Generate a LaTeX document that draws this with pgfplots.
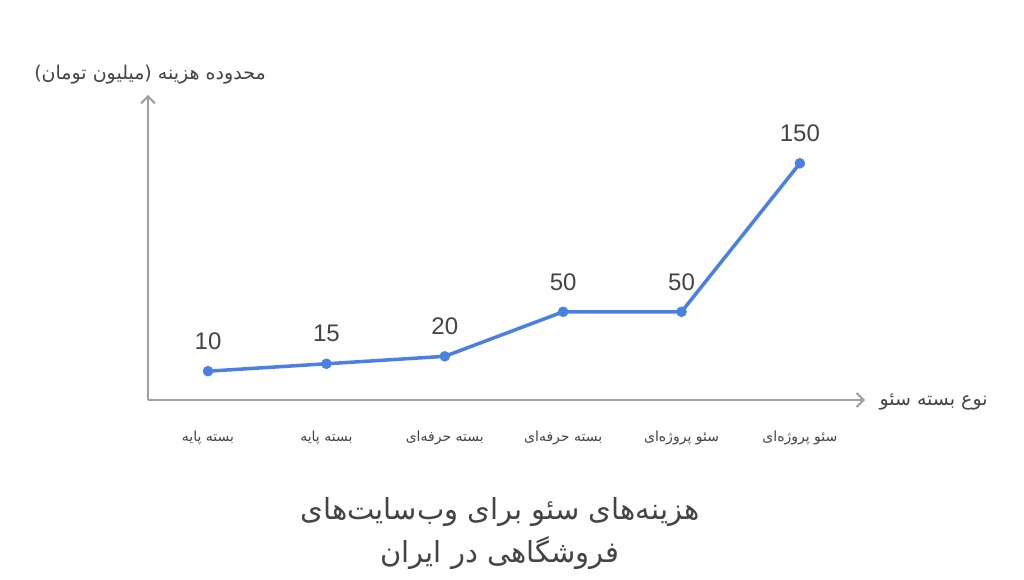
\documentclass[border=0pt]{standalone}
\usepackage{pgfplots}
\pgfplotsset{compat=1.18}
\usepackage{fontspec}
\setmainfont{Liberation Sans}
\newfontfamily\arabicfont[Script=Arabic]{DejaVu Sans}
\usetikzlibrary{arrows.meta}
\TeXXeTstate=1
\definecolor{lineblue}{RGB}{74,128,226}
\definecolor{axisgray}{RGB}{160,160,160}
\definecolor{txt}{RGB}{68,68,68}

\begin{document}
\begin{tikzpicture}[x=1pt,y=1pt]
\useasboundingbox (0,0) rectangle (1024,580);
\begin{axis}[
  at={(148pt,180pt)}, anchor=south west,
  scale only axis, width=717pt, height=305pt,
  xmin=-0.507, xmax=5.55, ymin=-9.4, ymax=196,
  axis lines=left,
  axis line style={draw=axisgray, line width=2pt, -{Straight Barb[length=7pt,width=14pt]}},
  xtick={0,1,2,3,4,5},
  xticklabels={
    {\beginR بسته پایه\endR},
    {\beginR بسته پایه\endR},
    {\beginR بسته حرفه‌ای\endR},
    {\beginR بسته حرفه‌ای\endR},
    {\beginR سئو پروژه‌ای\endR},
    {\beginR سئو پروژه‌ای\endR}},
  xticklabel style={font=\arabicfont\fontsize{14}{16}\selectfont, text=txt, anchor=center, yshift=-38pt},
  ytick=\empty,
  major tick length=0pt,
  /pgf/number format/assume math mode=true,
  nodes near coords,
  nodes near coords style={font=\fontsize{24}{28}\selectfont, text=txt, anchor=center, yshift=30pt},
  clip=false,
]
\addplot[color=lineblue, line width=3.5pt, mark=*, mark size=5pt, mark options={fill=lineblue, draw=lineblue, line width=0.5pt}]
coordinates {(0,10) (1,15) (2,20) (3,50) (4,50) (5,150)};
\end{axis}
\node[font=\arabicfont\fontsize{19}{22}\selectfont, text=txt] at (150,505) {\beginR محدوده هزینه (میلیون تومان)\endR};
\node[font=\arabicfont\fontsize{19}{22}\selectfont, text=txt, anchor=west] at (876,178) {\beginR نوع بسته سئو\endR};
\node[font=\arabicfont\fontsize{29}{33}\selectfont, text=txt] at (500,68) {\beginR هزینه‌های سئو برای وب‌سایت‌های\endR};
\node[font=\arabicfont\fontsize{29}{33}\selectfont, text=txt] at (500,27) {\beginR فروشگاهی در ایران\endR};
\end{tikzpicture}
\end{document}
